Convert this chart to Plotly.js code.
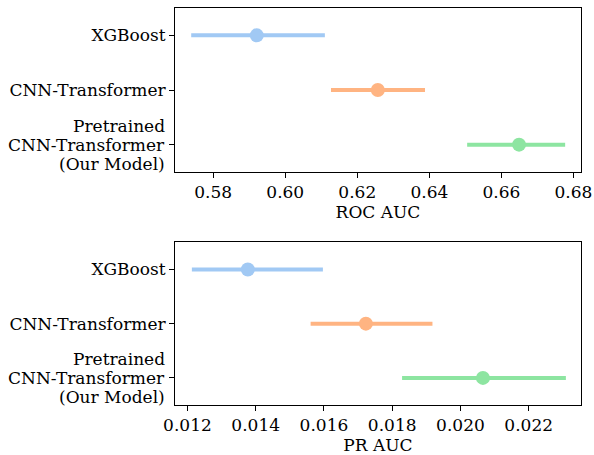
<!DOCTYPE html>
<html>
<head>
<meta charset="utf-8">
<script src="https://cdn.plot.ly/plotly-3.0.1.min.js"></script>
<style>html,body{margin:0;padding:0;background:#fff;}#chart{width:594px;height:455px;}</style>
</head>
<body>
<div id="chart"></div>
<script>
const models = ["XGBoost", "CNN-Transformer", "Pretrained CNN-Transformer (Our Model)"];
const modelLabelLines = [["XGBoost"], ["CNN-Transformer"], ["Pretrained", "CNN-Transformer", "(Our Model)"]];
const colors = ["#a1c9f4", "#ffb482", "#8de5a1"];
const rocMean = [0.5921, 0.6257, 0.6649];
const rocLow = [0.5739, 0.6127, 0.6505];
const rocHigh = [0.6110, 0.6388, 0.6777];
const prMean = [0.01377, 0.01723, 0.02066];
const prLow = [0.01213, 0.01561, 0.01829];
const prHigh = [0.01597, 0.01918, 0.02309];
const rocTicks = [0.58, 0.60, 0.62, 0.64, 0.66, 0.68];
const prTicks = [0.012, 0.014, 0.016, 0.018, 0.020, 0.022];

const traces = [];
function addTraces(mean, low, high, xa, ya) {
  for (let i = 0; i < models.length; i++) {
    traces.push({
      type: "scatter", mode: "markers",
      x: [mean[i]], y: [models[i]], xaxis: xa, yaxis: ya,
      marker: {color: colors[i], size: 14},
      error_x: {type: "data", symmetric: false, array: [high[i] - mean[i]], arrayminus: [mean[i] - low[i]],
        color: colors[i], thickness: 4, width: 0},
      showlegend: false, hoverinfo: "x+y"
    });
  }
}
addTraces(rocMean, rocLow, rocHigh, "x", "y");
addTraces(prMean, prLow, prHigh, "x2", "y2");

const font = {family: "DejaVu Serif", size: 17, color: "#000"};
const lineGap = 19;

// category labels: single-line ones as tick text, multi-line ones as tight-spaced annotations
const annotations = [];
["y", "y2"].forEach(yr => {
  modelLabelLines.forEach((lines, i) => {
    if (lines.length < 2) return;
    const n = lines.length;
    lines.forEach((ln, j) => {
      annotations.push({xref: "paper", x: 0, xanchor: "right", xshift: -8, yref: yr, y: models[i],
        yanchor: "middle", yshift: ((n - 1) / 2 - j) * lineGap, text: ln, showarrow: false, font: font});
    });
  });
});
const tickText = modelLabelLines.map(l => l.length < 2 ? l[0] : "");

const axBase = {showline: true, linecolor: "#000", linewidth: 1, mirror: true, ticks: "outside",
  ticklen: 5, tickwidth: 1, tickcolor: "#000", showgrid: false, zeroline: false, tickfont: font};
const yBase = Object.assign({}, axBase, {type: "category", range: [2.5, -0.5], categoryarray: models,
  categoryorder: "array", tickvals: models, ticktext: tickText});

const layout = {
  width: 594, height: 455,
  margin: {l: 175, r: 13, t: 8, b: 50},
  paper_bgcolor: "#fff", plot_bgcolor: "#fff",
  font: font,
  annotations: annotations,
  xaxis: Object.assign({}, axBase, {domain: [0, 1], anchor: "y", range: [0.5694, 0.6821], tickvals: rocTicks,
    ticktext: rocTicks.map(v => v.toFixed(2)), title: {text: "ROC AUC", font: font, standoff: 4}}),
  yaxis: Object.assign({}, yBase, {domain: [0.5869, 1], anchor: "x"}),
  xaxis2: Object.assign({}, axBase, {domain: [0, 1], anchor: "y2", range: [0.011636, 0.023533], tickvals: prTicks,
    ticktext: prTicks.map(v => v.toFixed(3)), title: {text: "PR AUC", font: font, standoff: 4}}),
  yaxis2: Object.assign({}, yBase, {domain: [0, 0.4098], anchor: "x2"})
};

Plotly.newPlot("chart", traces, layout, {staticPlot: true, displayModeBar: false});
</script>
</body>
</html>
